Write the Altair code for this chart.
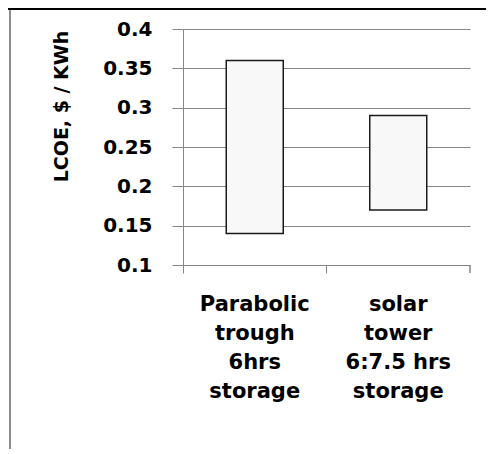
import altair as alt
import pandas as pd

categories = ["Parabolic\ntrough\n6hrs\nstorage", "solar\ntower\n6:7.5 hrs\nstorage"]
low_values = [0.14, 0.17]
high_values = [0.36, 0.29]
y_ticks = [0.1, 0.15, 0.2, 0.25, 0.3, 0.35, 0.4]

df = pd.DataFrame({"cat": categories, "low": low_values, "high": high_values})

FONT = "DejaVu Sans"
GRAY = "#868686"

bars = alt.Chart(df).mark_bar(
    width=57, fill="#f8f8f8", stroke="#1a1a1a", strokeWidth=1.5
).encode(
    x=alt.X(
        "cat:N", sort=categories,
        scale=alt.Scale(paddingInner=0, paddingOuter=0),
        axis=alt.Axis(
            title=None, grid=False, bandPosition=0,
            domainColor=GRAY, tickColor=GRAY, tickSize=8,
            labelAngle=0, labelFont=FONT, labelFontWeight="bold",
            labelFontSize=21, labelColor="#000000", labelLineHeight=29,
            labelExpr="split(datum.label, '\\n')", labelPadding=20,
            labelBaseline="top", labelLimit=0,
        ),
    ),
    y=alt.Y(
        "low:Q",
        scale=alt.Scale(domain=[0.1, 0.4], nice=False, zero=False),
        axis=alt.Axis(
            values=y_ticks, format=".2~f", grid=True, gridColor=GRAY,
            gridWidth=1, domainColor=GRAY, tickColor=GRAY, tickSize=11,
            labelFont=FONT, labelFontWeight="bold", labelFontSize=20,
            labelColor="#000000", labelPadding=20, labelBaseline="middle",
            title="LCOE, $ / KWh", titleFont=FONT, titleFontWeight="bold",
            titleFontSize=19, titleColor="#000000", titleAngle=-90,
            titleX=-122, titleY=77, titleAlign="center", titleBaseline="middle",
        ),
    ),
    y2="high:Q",
)

end_tick = alt.Chart(df).mark_rule(color=GRAY, strokeWidth=1).encode(
    x=alt.value(287), y=alt.value(236), y2=alt.value(244)
)

left_border = alt.Chart(df).mark_rule(color="#8c8c8c", strokeWidth=2).encode(
    x=alt.value(-173), y=alt.value(-21), y2=alt.value(430)
)

top_border = alt.Chart(df).mark_rule(color="#000000", strokeWidth=2).encode(
    x=alt.value(-175), x2=alt.value(320), y=alt.value(-20)
)

chart = alt.layer(bars, end_tick, left_border, top_border).properties(
    width=287, height=236,
    autosize=alt.AutoSizeParams(type="none"),
    padding={"left": 175, "top": 21, "right": 16, "bottom": 184},
).configure_view(strokeWidth=0)

chart.save("out.html", embed_options={"renderer": "svg", "actions": False})
